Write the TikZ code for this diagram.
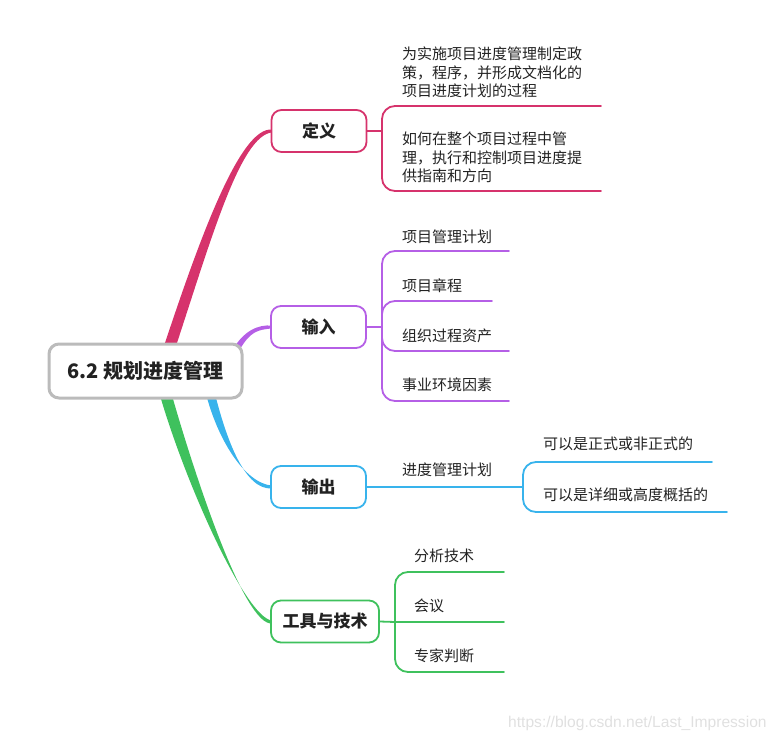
\documentclass[tikz,border=0pt]{standalone}
\usepackage{fontspec}
\setmainfont{Noto Sans CJK SC}
\newfontfamily\urlfont{Liberation Sans}
\usepackage{xcolor}
\usepackage{tikz}
\usetikzlibrary{calc}
\definecolor{DefRed}{HTML}{D6336C}
\definecolor{InPurple}{HTML}{B55FE6}
\definecolor{OutBlue}{HTML}{38B3EC}
\definecolor{ToolGreen}{HTML}{3FC15D}
\definecolor{RootGray}{HTML}{BBBBBB}
\definecolor{InkBlack}{HTML}{222222}
\newcommand{\Taper}[6]{
	\def\lstart{#1}
	\def\lca{#2}
	\def\lcb{#3}
	\def\lend{#4}
	\def\lwidth{#5}
	\def\lfill{#6}
	\fill[\lfill] ($(\lstart)+(-\lwidth,0)$) .. controls ($(\lca)+(-\lwidth,0)$) and ($(\lcb)+(0,-0.8*\lwidth)$) .. ($(\lend)+(0,-1.4)$)
		-- ($(\lend)+(0,1.4)$) .. controls ($(\lcb)+(0,0.8*\lwidth)$) and ($(\lca)+(\lwidth,0)$) .. ($(\lstart)+(\lwidth,0)$) -- cycle;
}
\begin{document}
\begin{tikzpicture}[x=1pt, y=-1pt, line cap=round,
	rootbox/.style={draw=RootGray, line width=3pt, fill=white, rounded corners=10pt, minimum width=193pt, minimum height=54pt, text=InkBlack, font=\bfseries\fontsize{20}{24}\selectfont},
	branchbox/.style={line width=1.8pt, fill=white, rounded corners=10pt, minimum width=95pt, minimum height=42pt, text=InkBlack, font=\bfseries\fontsize{17}{20}\selectfont},
	leaf/.style={anchor=base west, inner sep=0pt, text=InkBlack, font=\fontsize{15}{18.5}\selectfont},
	twig/.style={line width=1.8pt, rounded corners=13pt}]

	\useasboundingbox (0,0) rectangle (777,742);

	% thick curves from the root
	\Taper{168,352}{205,240}{240,131}{272,131}{6}{DefRed}
	\Taper{236,350}{247,331}{258,327}{272,327}{3.5}{InPurple}
	\Taper{210,392}{222,440}{245,487}{272,487}{4.5}{OutBlue}
	\Taper{165,392}{190,480}{245,622}{272,622}{6}{ToolGreen}

	\node[rootbox] (root) at (145.5,371) {6.2 规划进度管理};

	\node[branchbox, draw=DefRed] (def) at (319,131) {定义};
	\node[branchbox, draw=InPurple] (inp) at (318.5,327) {输入};
	\node[branchbox, draw=OutBlue] (outp) at (318.5,487) {输出};
	\node[branchbox, draw=ToolGreen, minimum width=108pt] (tool) at (325,621.5) {工具与技术};

	\coordinate (defS) at (382,131);
	\coordinate (defA) at (601,106);
	\coordinate (defB) at (601,191);

	\coordinate (inpS) at (382,327);
	\coordinate (inpA) at (509,251);
	\coordinate (inpB) at (492,301);
	\coordinate (inpC) at (509,351);
	\coordinate (inpD) at (509,401);

	\coordinate (outS) at (523,487);
	\coordinate (outA) at (712,462);
	\coordinate (outB) at (727,512);

	\coordinate (toolS) at (395,622);
	\coordinate (toolA) at (504,572);
	\coordinate (toolB) at (504,622);
	\coordinate (toolC) at (504,672);

\begin{scope}[DefRed]
	\draw[twig] (def.east) -- (defS);
	\draw[twig] (defS) |- (defA);
	\draw[twig] (defS) |- (defB);
\end{scope}

\begin{scope}[InPurple]
	\draw[twig] (inp.east) -- (inpS);
	\foreach \p in {inpA, inpB, inpC, inpD}
		\draw[twig] (inpS) |- (\p);
\end{scope}

\begin{scope}[OutBlue]
	\draw[twig] (outp.east) -- (outS);
	\draw[twig] (outS) |- (outA);
	\draw[twig] (outS) |- (outB);
\end{scope}

\begin{scope}[ToolGreen]
	\draw[twig] (tool.east) -- (toolS);
	\draw[twig] (toolS) |- (toolA);
	\draw[twig] (toolS) -- (toolB);
	\draw[twig] (toolS) |- (toolC);
\end{scope}

	\node[leaf, align=left, anchor=south west] (defTa) at (402,98) {为实施项目进度管理制定政\\策，程序，并形成文档化的\\项目进度计划的过程};
	\node[leaf, align=left, anchor=south west] (defTb) at (402,183) {如何在整个项目过程中管\\理，执行和控制项目进度提\\供指南和方向};

	\node[leaf] (inpTa) at (402,242) {项目管理计划};
	\node[leaf] (inpTb) at (402,291) {项目章程};
	\node[leaf] (inpTc) at (402,341) {组织过程资产};
	\node[leaf] (inpTd) at (402,390) {事业环境因素};

	\node[leaf] (outT) at (402,475) {进度管理计划};
	\node[leaf] (outTa) at (543,449) {可以是正式或非正式的};
	\node[leaf] (outTb) at (543,500) {可以是详细或高度概括的};

	\node[leaf] (toolTa) at (414,561) {分析技术};
	\node[leaf] (toolTb) at (414,611) {会议};
	\node[leaf] (toolTc) at (414,661) {专家判断};

	\node[anchor=west, inner sep=0pt, text=black!12, font=\urlfont\fontsize{15.6}{18}\selectfont] (mark) at (508,723) {https://blog.csdn.net/Last\_Impression};

\end{tikzpicture}
\end{document}
